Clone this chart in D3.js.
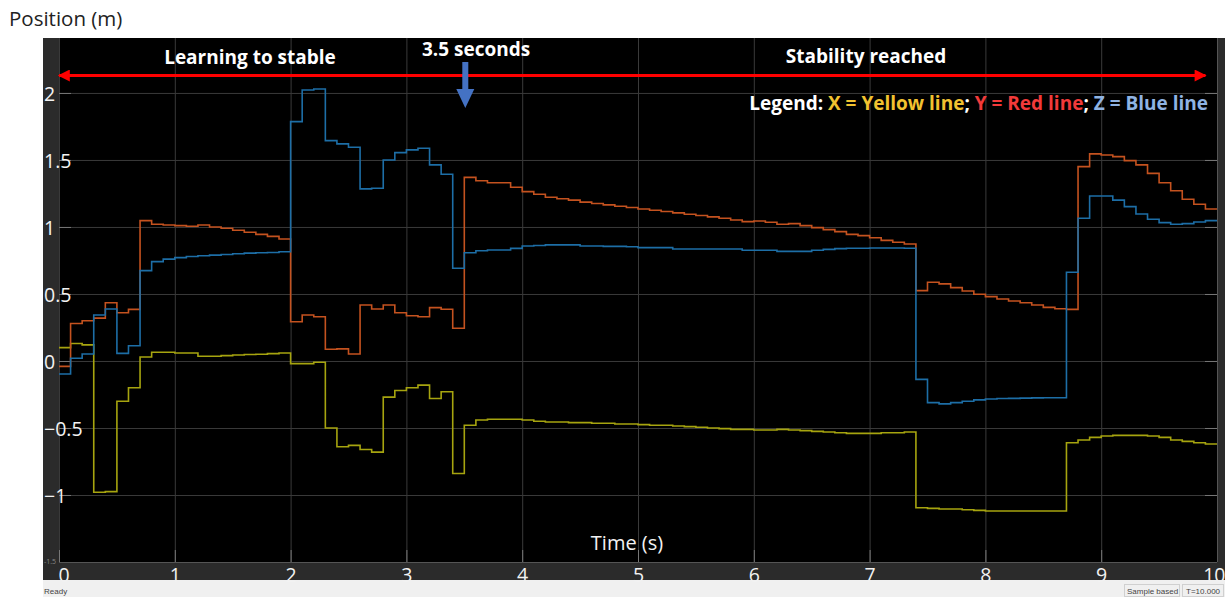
<!DOCTYPE html>
<html>
<head>
<meta charset="utf-8">
<script src="https://cdn.jsdelivr.net/npm/d3@7"></script>
<style>
  html, body { margin: 0; padding: 0; background: #ffffff; }
  svg { display: block; }
</style>
</head>
<body>
<svg id="chart" width="1225" height="597"></svg>
<script>
// ---------- DATA ----------
const times = [0,0.1,0.2,0.3,0.4,0.5,0.6,0.7,0.8,0.9,1,1.1,1.2,1.3,1.4,1.5,1.6,1.7,1.8,1.9,
  2,2.1,2.2,2.3,2.4,2.5,2.6,2.7,2.8,2.9,3,3.1,3.2,3.3,3.4,3.5,3.6,3.7,3.8,3.9,
  4,4.1,4.2,4.3,4.4,4.5,4.6,4.7,4.8,4.9,5,5.1,5.2,5.3,5.4,5.5,5.6,5.7,5.8,5.9,
  6,6.1,6.2,6.3,6.4,6.5,6.6,6.7,6.8,6.9,7,7.1,7.2,7.3,7.4,7.5,7.6,7.7,7.8,7.9,
  8,8.1,8.2,8.3,8.4,8.5,8.6,8.7,8.8,8.9,9,9.1,9.2,9.3,9.4,9.5,9.6,9.7,9.8,9.9,10];

// X = yellow line
const xValues = [0.10,0.13,0.12,-0.98,-0.975,-0.30,-0.20,0.03,0.065,0.065,
  0.06,0.06,0.035,0.035,0.04,0.045,0.048,0.05,0.055,0.06,
  -0.02,-0.02,-0.01,-0.50,-0.64,-0.63,-0.66,-0.68,-0.27,-0.22,
  -0.20,-0.18,-0.28,-0.23,-0.84,-0.48,-0.44,-0.435,-0.435,-0.435,
  -0.44,-0.45,-0.455,-0.455,-0.46,-0.46,-0.465,-0.465,-0.47,-0.47,
  -0.475,-0.48,-0.48,-0.485,-0.49,-0.495,-0.50,-0.505,-0.51,-0.51,
  -0.515,-0.515,-0.51,-0.515,-0.52,-0.525,-0.53,-0.535,-0.54,-0.54,
  -0.54,-0.535,-0.535,-0.53,-1.095,-1.10,-1.105,-1.105,-1.11,-1.115,
  -1.12,-1.12,-1.12,-1.12,-1.12,-1.12,-1.12,-0.61,-0.59,-0.57,
  -0.56,-0.555,-0.555,-0.555,-0.56,-0.57,-0.59,-0.60,-0.61,-0.62,-0.62];

// Y = red line
const yValues = [-0.04,0.28,0.30,0.32,0.435,0.36,0.385,1.047,1.02,1.015,
  1.01,1.005,1.015,1.0,0.99,0.975,0.96,0.945,0.93,0.91,
  0.293,0.343,0.33,0.087,0.09,0.052,0.418,0.388,0.418,0.36,
  0.338,0.33,0.398,0.386,0.244,1.37,1.345,1.33,1.33,1.296,
  1.264,1.244,1.222,1.21,1.20,1.185,1.175,1.165,1.155,1.145,
  1.134,1.125,1.115,1.105,1.095,1.085,1.075,1.065,1.052,1.04,
  1.045,1.035,1.02,1.025,1.01,0.995,0.98,0.965,0.945,0.935,
  0.92,0.90,0.886,0.873,0.525,0.587,0.575,0.547,0.522,0.498,
  0.48,0.463,0.448,0.435,0.418,0.40,0.39,0.385,1.45,1.545,
  1.537,1.525,1.495,1.463,1.40,1.33,1.27,1.207,1.17,1.134,1.134];

// Z = blue line
const zValues = [-0.097,0.02,0.052,0.343,0.388,0.057,0.114,0.674,0.741,0.76,
  0.771,0.78,0.785,0.79,0.795,0.80,0.805,0.808,0.81,0.815,
  1.786,2.022,2.03,1.644,1.62,1.595,1.284,1.289,1.50,1.555,
  1.575,1.587,1.463,1.393,0.692,0.808,0.823,0.828,0.828,0.84,
  0.858,0.862,0.866,0.866,0.866,0.858,0.858,0.855,0.855,0.852,
  0.846,0.846,0.846,0.836,0.836,0.836,0.836,0.836,0.836,0.826,
  0.826,0.826,0.818,0.818,0.818,0.826,0.833,0.838,0.841,0.841,
  0.843,0.843,0.843,0.841,-0.137,-0.311,-0.32,-0.311,-0.30,-0.29,
  -0.284,-0.28,-0.279,-0.277,-0.275,-0.274,-0.274,0.662,1.065,1.231,
  1.231,1.20,1.152,1.097,1.057,1.032,1.02,1.025,1.037,1.047,1.047];

const xTicks = [0,1,2,3,4,5,6,7,8,9,10];
const yTicks = [-1.5,-1,-0.5,0,0.5,1,1.5,2];
const seriesNames = ["X","Y","Z"];
const seriesColors = ["#a6a40f","#c4521f","#1d6ea6"];

// ---------- LAYOUT ----------
const svg = d3.select("#chart");
const frameL = 43, frameR = 1225, frameT = 38, frameB = 580;
const plotL = 59, plotR = 1217, plotT = 38, plotB = 562;

const x = d3.scaleLinear().domain([0,10]).range([plotL, plotR]);
const y = d3.scaleLinear().domain([-1.5, 2.41]).range([plotB, plotT]);

// status bar
svg.append("rect").attr("x", frameL).attr("y", frameB).attr("width", frameR-frameL).attr("height", 597-frameB).attr("fill", "#f0f0f0");
svg.append("text").attr("x", frameL+1).attr("y", 594).attr("font-family","Liberation Sans, Arial").attr("font-size", 8).attr("fill","#444").text("Ready");
svg.append("rect").attr("x", 1124.5).attr("y", 584.5).attr("width", 55).attr("height", 12).attr("fill","none").attr("stroke","#d0d0d0");
svg.append("text").attr("x", 1127).attr("y", 594).attr("font-family","Liberation Sans, Arial").attr("font-size", 8).attr("fill","#444").text("Sample based");
svg.append("rect").attr("x", 1182.5).attr("y", 584.5).attr("width", 41).attr("height", 12).attr("fill","none").attr("stroke","#d0d0d0");
svg.append("text").attr("x", 1186).attr("y", 594).attr("font-family","Liberation Sans, Arial").attr("font-size", 8).attr("fill","#444").text("T=10.000");

// frame
svg.append("rect").attr("x", frameL).attr("y", frameT).attr("width", frameR-frameL).attr("height", frameB-frameT).attr("fill", "#2b2b2b");
svg.append("rect").attr("x", plotL).attr("y", plotT).attr("width", plotR-plotL).attr("height", plotB-plotT).attr("fill", "#000000");

// grid lines
const grid = svg.append("g");
grid.append("g").attr("transform", `translate(${plotL},0)`)
  .call(d3.axisLeft(y).tickValues(yTicks).tickSize(-(plotR-plotL)).tickFormat(""))
  .call(g => g.select(".domain").remove())
  .call(g => g.selectAll("line").attr("stroke", "#3a3a3a").attr("stroke-width", 1));
grid.append("g").attr("transform", `translate(0,${plotB})`)
  .call(d3.axisBottom(x).tickValues(xTicks).tickSize(-(plotB-plotT)).tickFormat(""))
  .call(g => g.select(".domain").remove())
  .call(g => g.selectAll("line").attr("stroke", "#3a3a3a").attr("stroke-width", 1));

// short tick marks
const tickMarks = svg.append("g");
tickMarks.append("g").attr("transform", `translate(${plotL},0)`)
  .call(d3.axisLeft(y).tickValues(yTicks).tickSize(-12).tickFormat(""))
  .call(g => g.select(".domain").remove())
  .call(g => g.selectAll("line").attr("stroke", "#777"));
tickMarks.append("g").attr("transform", `translate(${plotR},0)`)
  .call(d3.axisRight(y).tickValues(yTicks).tickSize(-12).tickFormat(""))
  .call(g => g.select(".domain").remove())
  .call(g => g.selectAll("line").attr("stroke", "#777"));
tickMarks.append("g").attr("transform", `translate(0,${plotB})`)
  .call(d3.axisBottom(x).tickValues(xTicks).tickSize(-12).tickFormat(""))
  .call(g => g.select(".domain").remove())
  .call(g => g.selectAll("line").attr("stroke", "#777"));
svg.append("line").attr("x1", plotR+0.5).attr("x2", plotR+0.5).attr("y1", plotT).attr("y2", plotB).attr("stroke","#555");
svg.append("line").attr("x1", plotL).attr("x2", plotR).attr("y1", plotB+0.5).attr("y2", plotB+0.5).attr("stroke","#555");

// series lines
const line = d3.line().curve(d3.curveStepAfter).x(d => x(d[0])).y(d => y(d[1]));
const allSeries = [xValues, yValues, zValues];
const lines = svg.append("g");
allSeries.forEach((vals, i) => {
  const pts = times.map((t, k) => [t, vals[k]]);
  lines.append("path").datum(pts).attr("d", line)
    .attr("fill", "none").attr("stroke", seriesColors[i]).attr("stroke-width", 1.6)
    .attr("stroke-linejoin", "miter");
});

// y tick labels
const tickFont = "'Open Sans', 'Noto Sans', sans-serif";
svg.append("g").attr("transform", `translate(${plotL},0)`)
  .call(d3.axisLeft(y).tickValues(yTicks.filter(v => v !== -1.5)).tickSize(0).tickFormat(d3.format("")))
  .call(g => g.select(".domain").remove())
  .call(g => g.selectAll("text").attr("x", -15).attr("dy", "0.38em").attr("text-anchor", "start")
    .attr("font-family", tickFont).attr("font-size", 19.5).attr("fill", "#f2f2f2"));
svg.append("text").attr("x", 44).attr("y", y(-1.5)+2).attr("font-family", tickFont).attr("font-size", 7).attr("fill", "#888").text("-1.5");

// x tick labels
svg.append("g").attr("transform", `translate(0,${plotB})`)
  .call(d3.axisBottom(x).tickValues(xTicks).tickSize(0).tickFormat(d3.format("")))
  .call(g => g.select(".domain").remove())
  .call(g => g.selectAll("text").attr("y", 20).attr("dy", 0)
    .attr("font-family", tickFont).attr("font-size", 19.5).attr("fill", "#f2f2f2")
    .attr("text-anchor", d => d === 0 ? "start" : (d === 10 ? "end" : "middle"))
    .attr("dx", d => d === 0 ? -1 : (d === 10 ? 8 : 0)));

// axis titles
svg.append("text").attr("x", 627).attr("y", 550).attr("text-anchor", "middle")
  .attr("font-family", tickFont).attr("font-size", 20).attr("fill", "#f2f2f2").text("Time (s)");
svg.append("text").attr("x", 9).attr("y", 26)
  .attr("font-family", tickFont).attr("font-size", 20.5).attr("fill", "#222").text("Position (m)");

// annotations
const annFont = "'Open Sans', 'Noto Sans', sans-serif";
const defs = svg.append("defs");
defs.append("marker").attr("id", "redHead").attr("viewBox", "0 0 10 10").attr("refX", 9).attr("refY", 5)
  .attr("markerWidth", 4.5).attr("markerHeight", 4).attr("markerUnits", "strokeWidth").attr("orient", "auto-start-reverse")
  .append("path").attr("d", "M0,0 L10,5 L0,10 Z").attr("fill", "#ff0000");
svg.append("line").attr("x1", x(0)).attr("x2", x(9.9)).attr("y1", 75.5).attr("y2", 75.5)
  .attr("stroke", "#ff0000").attr("stroke-width", 3)
  .attr("marker-start", "url(#redHead)").attr("marker-end", "url(#redHead)");

// blue arrow at 3.5 s
const ax = x(3.5) + 1;
svg.append("path")
  .attr("d", `M${ax-3},62 L${ax+3},62 L${ax+3},89 L${ax+9},89 L${ax},108 L${ax-9},89 L${ax-3},89 Z`)
  .attr("fill", "#4472c4");

svg.append("text").attr("x", 250).attr("y", 64).attr("text-anchor", "middle")
  .attr("font-family", annFont).attr("font-weight", 700).attr("font-size", 19).attr("fill", "#ffffff").text("Learning to stable");
svg.append("text").attr("x", 476).attr("y", 56).attr("text-anchor", "middle")
  .attr("font-family", annFont).attr("font-weight", 700).attr("font-size", 19).attr("fill", "#ffffff").text("3.5 seconds");
svg.append("text").attr("x", 866).attr("y", 63).attr("text-anchor", "middle")
  .attr("font-family", annFont).attr("font-weight", 700).attr("font-size", 19).attr("fill", "#ffffff").text("Stability reached");

const legendParts = [
  {t: "Legend: ", c: "#ffffff"},
  {t: "X = Yellow line", c: "#f2c230"},
  {t: "; ", c: "#ffffff"},
  {t: "Y = Red line", c: "#f23a3a"},
  {t: "; ", c: "#ffffff"},
  {t: "Z = Blue line", c: "#8fb3e3"}
];
const leg = svg.append("text").attr("x", 1208).attr("y", 110).attr("text-anchor", "end")
  .attr("font-family", annFont).attr("font-weight", 700).attr("font-size", 19);
legendParts.forEach(p => leg.append("tspan").attr("fill", p.c).text(p.t));
</script>
</body>
</html>
